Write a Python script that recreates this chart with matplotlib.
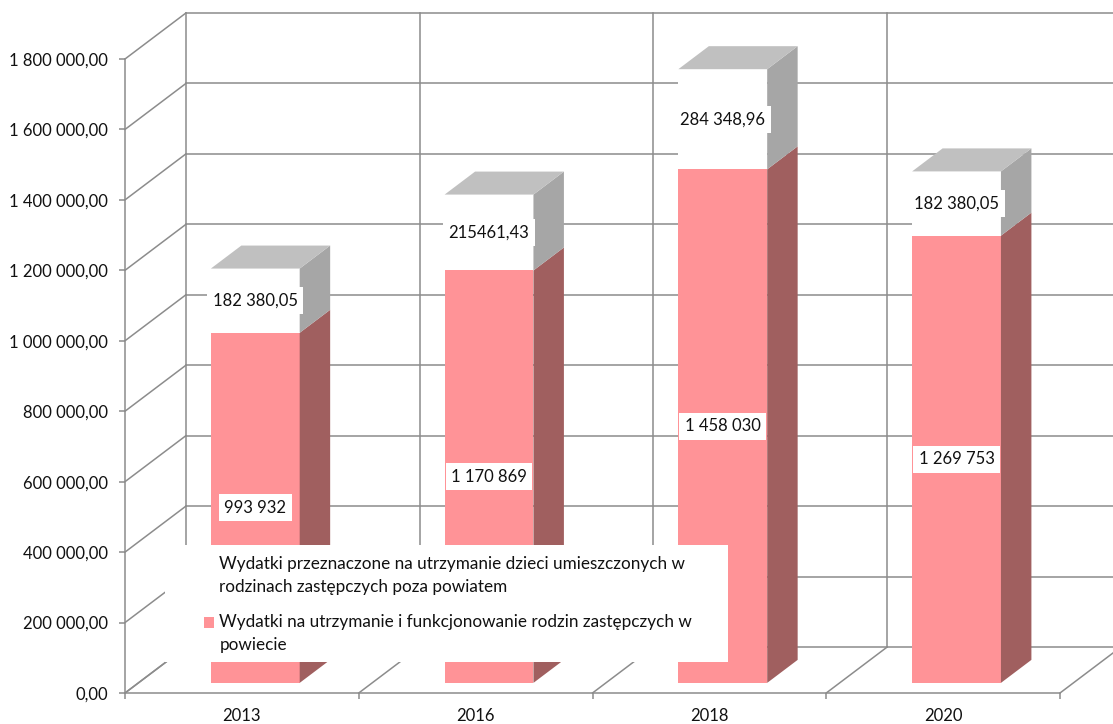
import numpy as np
import matplotlib
matplotlib.use("Agg")
import matplotlib.pyplot as plt
from matplotlib.patches import Polygon, Rectangle, Patch
from matplotlib.legend_handler import HandlerPatch

plt.rcParams['font.family'] = ['Lato', 'DejaVu Sans']

# Data
years = ['2013', '2016', '2018', '2020']
w_powiecie = [993932, 1170869, 1458030, 1269753]
poza_powiatem = [182380.05, 215461.43, 284348.96, 182380.05]
labels_low = ['993 932', '1 170 869', '1 458 030', '1 269 753']
labels_high = ['182 380,05', '215461,43', '284 348,96', '182 380,05']
series_names = ['Wydatki przeznaczone na utrzymanie dzieci umieszczonych w\nrodzinach zastępczych poza powiatem',
                'Wydatki na utrzymanie i funkcjonowanie rodzin zastępczych w\npowiecie']
y_ticks = np.arange(0, 1800001, 200000)

# Colors
pink = '#ff9397'
pink_side = '#a05f5f'
gray_top = '#c0c0c0'
gray_side = '#a6a6a6'
grid = '#8c8c8c'
txt = '#111111'

W, H = 1113, 724
fig = plt.figure(figsize=(W / 100, H / 100), dpi=100)
# front plane of the 3D box
ax = fig.add_axes([125 / W, (H - 693) / H, (1060 - 125) / W, (693 - 59) / H])
ax.set_xlim(0, 4)
ax.set_ylim(0, 1800000)

# depth offset (oblique projection), in data units
DX = 61 / 234
DY = 46 / 634 * 1800000
f0, f1 = 0.22, 0.72   # bar depth span (fraction of floor depth)
half = 0.19           # half bar width (category units)

lw = 1.1
# back wall horizontal gridlines + left wall slanted lines
for v in y_ticks:
    ax.plot([DX, 4 + DX], [v + DY, v + DY], color=grid, lw=lw, clip_on=False, zorder=1)
    ax.plot([0, DX], [v, v + DY], color=grid, lw=lw, clip_on=False, zorder=1)
# back wall verticals + floor slanted lines
for i in range(5):
    ax.plot([i + DX, i + DX], [DY, y_ticks[-1] + DY], color=grid, lw=lw, clip_on=False, zorder=1)
    ax.plot([i, i + DX], [0, DY], color=grid, lw=lw, clip_on=False, zorder=1)

# bars
def draw_segment(xc, y0, y1, front_col, side_col, top_col=None):
    x0 = xc - half + f0 * DX
    x1 = xc + half + f0 * DX
    b0 = y0 + f0 * DY
    b1 = y1 + f0 * DY
    ddx = (f1 - f0) * DX
    ddy = (f1 - f0) * DY
    ax.add_patch(Rectangle((x0, b0), x1 - x0, b1 - b0, facecolor=front_col,
                           edgecolor='none', clip_on=False, zorder=3))
    ax.add_patch(Polygon([(x1, b0), (x1 + ddx, b0 + ddy), (x1 + ddx, b1 + ddy), (x1, b1)],
                         closed=True, facecolor=side_col, edgecolor='none', clip_on=False, zorder=3))
    if top_col is not None:
        ax.add_patch(Polygon([(x0, b1), (x1, b1), (x1 + ddx, b1 + ddy), (x0 + ddx, b1 + ddy)],
                             closed=True, facecolor=top_col, edgecolor='none', clip_on=False, zorder=3))

for i in range(len(years)):
    xc = i + 0.5
    low = w_powiecie[i]
    high = low + poza_powiatem[i]
    draw_segment(xc, 0, low, pink, pink_side)
    draw_segment(xc, low, high, 'white', gray_side, gray_top)
    box = dict(boxstyle='square,pad=0.33', facecolor='white', edgecolor='none')
    ax.text(xc + f0 * DX, low / 2 + f0 * DY, labels_low[i], ha='center', va='center',
            fontsize=12, color=txt, bbox=box, zorder=5)
    ax.text(xc + f0 * DX, (low + high) / 2 + f0 * DY, labels_high[i], ha='center', va='center',
            fontsize=12, color=txt, bbox=box, zorder=5)

# axes
for s in ['top', 'right']:
    ax.spines[s].set_visible(False)
for s in ['left', 'bottom']:
    ax.spines[s].set_color(grid)
    ax.spines[s].set_linewidth(lw)
ax.set_yticks(y_ticks)
ax.set_yticklabels([f'{v:,.2f}'.replace(',', ' ').replace('.', ',') for v in y_ticks])
ax.set_xticks(np.arange(5))
ax.set_xticklabels([])
ax.set_xticks(np.arange(4) + 0.5, minor=True)
ax.set_xticklabels(years, minor=True)
ax.tick_params(axis='both', which='major', direction='out', length=4.5, color=grid, width=lw,
               labelsize=12, labelcolor=txt)
ax.tick_params(axis='x', which='minor', length=0, labelsize=12, labelcolor=txt, pad=11)
ax.tick_params(axis='y', pad=8)
ax.patch.set_visible(False)

# legend with white background box
fig.patches.append(Rectangle((165 / W, (H - 662) / H), (728 - 165) / W, (662 - 545) / H,
                             transform=fig.transFigure, facecolor='white', edgecolor='none', zorder=8))


# legend square sits next to the first line of a two-line label (like Excel)
def square_first_line(legend, orig_handle, xdescent, ydescent, width, height, fontsize):
    return Rectangle((-xdescent, -ydescent + 0.68 * fontsize), width, height)


handles = [Patch(facecolor='white', edgecolor='none'), Patch(facecolor=pink, edgecolor='none')]
leg = fig.legend(handles, series_names, loc='upper left', bbox_to_anchor=(204 / W, 1 - 556 / H),
                 frameon=False, fontsize=12.3, handlelength=0.6, handleheight=0.6,
                 handletextpad=0.3, labelspacing=1.1, borderpad=0, borderaxespad=0,
                 handler_map={Patch: HandlerPatch(patch_func=square_first_line)})
leg.set_zorder(9)
for t in leg.get_texts():
    t.set_linespacing(1.55)
    t.set_color(txt)

fig.savefig('out.png', dpi=100)
